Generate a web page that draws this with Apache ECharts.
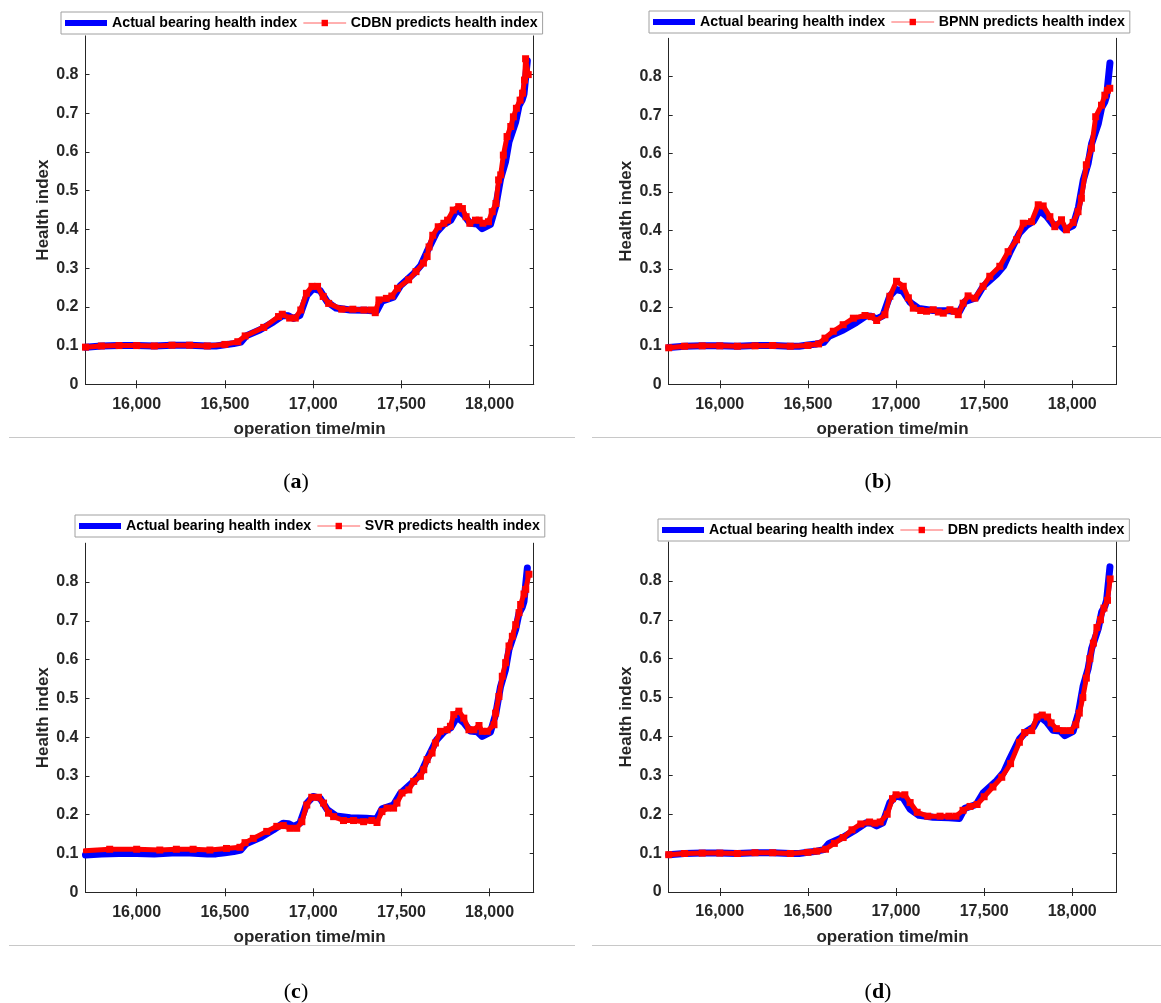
<!DOCTYPE html>
<html>
<head>
<meta charset="utf-8">
<script src="https://cdn.jsdelivr.net/npm/echarts@6/dist/echarts.min.js"></script>
<style>
html,body{margin:0;padding:0;background:#fff;}
#chart{width:1161px;height:1003px;}
</style>
</head>
<body>
<div id="chart"></div>
<script>
// ---------------- data ----------------
const xTicks = [16000, 16500, 17000, 17500, 18000];
const yTicks = [0, 0.1, 0.2, 0.3, 0.4, 0.5, 0.6, 0.7, 0.8];

const actualTime = [15710,15800,15900,16000,16100,16200,16300,16400,16450,16500,16550,16590,16620,16700,16775,16830,16860,16890,16925,16965,17000,17040,17080,17130,17210,17300,17360,17390,17455,17495,17570,17610,17645,17700,17740,17780,17815,17855,17890,17930,17958,18005,18035,18062,18090,18110,18148,18167,18175,18185,18195,18214];
const actualHI   = [0.096,0.099,0.100,0.100,0.099,0.101,0.101,0.099,0.099,0.102,0.105,0.109,0.125,0.141,0.161,0.178,0.177,0.170,0.178,0.230,0.247,0.242,0.213,0.197,0.192,0.191,0.189,0.215,0.225,0.255,0.286,0.307,0.342,0.393,0.413,0.424,0.452,0.437,0.416,0.414,0.402,0.413,0.460,0.530,0.574,0.626,0.678,0.720,0.722,0.735,0.750,0.836];

const cdbnTime = [15710,15800,15900,16000,16100,16200,16300,16400,16500,16573,16615,16720,16804,16825,16867,16899,16930,16962,16994,17025,17057,17088,17162,17225,17288,17331,17352,17373,17415,17446,17478,17541,17583,17625,17646,17657,17678,17709,17741,17762,17794,17825,17846,17867,17888,17920,17941,17962,17994,18015,18036,18051,18063,18078,18099,18120,18135,18152,18173,18187,18198,18204,18219];
const cdbnHI   = [0.096,0.099,0.100,0.100,0.099,0.101,0.101,0.099,0.103,0.110,0.125,0.147,0.175,0.181,0.171,0.171,0.192,0.235,0.253,0.253,0.227,0.209,0.194,0.194,0.192,0.192,0.185,0.218,0.222,0.228,0.248,0.270,0.291,0.313,0.330,0.355,0.385,0.407,0.416,0.424,0.450,0.459,0.454,0.433,0.416,0.424,0.424,0.416,0.420,0.446,0.467,0.528,0.541,0.592,0.640,0.666,0.691,0.713,0.734,0.752,0.786,0.841,0.800];

const bpnnTime = [15710,15800,15900,16000,16100,16200,16300,16400,16500,16560,16597,16644,16700,16758,16824,16860,16890,16937,16965,17003,17041,17070,17098,17140,17173,17211,17240,17268,17306,17330,17353,17381,17409,17447,17494,17532,17589,17636,17684,17722,17769,17807,17835,17873,17901,17939,17967,18005,18033,18052,18080,18109,18133,18166,18185,18200,18213];
const bpnnHI   = [0.095,0.099,0.100,0.100,0.099,0.100,0.101,0.099,0.101,0.105,0.120,0.138,0.155,0.172,0.179,0.176,0.166,0.181,0.229,0.268,0.255,0.225,0.198,0.192,0.190,0.194,0.188,0.185,0.194,0.190,0.181,0.211,0.230,0.224,0.255,0.281,0.307,0.345,0.376,0.419,0.423,0.467,0.464,0.436,0.410,0.428,0.402,0.421,0.449,0.484,0.571,0.614,0.696,0.726,0.752,0.765,0.770];

const svrTime = [15706,15847,16000,16131,16225,16320,16415,16509,16585,16614,16661,16737,16794,16831,16869,16907,16936,16964,16992,17030,17059,17087,17116,17172,17229,17286,17333,17362,17390,17419,17456,17475,17504,17542,17570,17608,17627,17646,17674,17693,17722,17759,17778,17797,17826,17854,17883,17911,17940,17958,17987,18025,18034,18053,18072,18091,18110,18129,18148,18167,18176,18195,18205,18223];
const svrHI   = [0.107,0.111,0.111,0.109,0.111,0.111,0.109,0.113,0.116,0.128,0.139,0.157,0.170,0.172,0.165,0.165,0.182,0.225,0.245,0.245,0.230,0.204,0.195,0.185,0.185,0.182,0.185,0.180,0.208,0.217,0.217,0.230,0.256,0.264,0.286,0.299,0.316,0.342,0.359,0.385,0.415,0.419,0.428,0.458,0.467,0.449,0.419,0.419,0.430,0.415,0.415,0.432,0.462,0.505,0.557,0.592,0.635,0.660,0.690,0.721,0.742,0.769,0.781,0.820];

const dbnTime = [15710,15800,15900,16000,16100,16200,16300,16400,16500,16550,16600,16650,16700,16750,16800,16850,16880,16910,16950,16980,17000,17050,17080,17120,17180,17250,17300,17340,17380,17420,17460,17500,17550,17600,17650,17700,17730,17770,17800,17830,17860,17880,17910,17950,17990,18020,18040,18060,18080,18100,18120,18140,18160,18180,18200,18215];
const dbnHI   = [0.096,0.099,0.100,0.100,0.099,0.101,0.101,0.099,0.102,0.105,0.110,0.125,0.140,0.160,0.175,0.180,0.177,0.180,0.200,0.240,0.250,0.250,0.230,0.205,0.195,0.195,0.195,0.195,0.210,0.220,0.225,0.245,0.270,0.295,0.330,0.385,0.410,0.415,0.450,0.455,0.450,0.435,0.420,0.415,0.415,0.430,0.460,0.500,0.550,0.600,0.640,0.680,0.700,0.730,0.750,0.805];

const actualName = 'Actual bearing health index';
const predNames = ['CDBN predicts health index','BPNN predicts health index','SVR predicts health index','DBN predicts health index'];
const captions = ['a','b','c','d'];

// ---------------- layout ----------------
const zip = (xs, ys) => xs.map((x, i) => [x, ys[i]]);
const predData = [zip(cdbnTime, cdbnHI), zip(bpnnTime, bpnnHI), zip(svrTime, svrHI), zip(dbnTime, dbnHI)];
const actualData = zip(actualTime, actualHI);

const layout = [
  {grid:{left:85.5, top:35.9, width:448.2, height:348.4}, legend:{left:61, top:12}, cap:{x:291, y:466}, sep:{x1:9, x2:575, y:437.5}},
  {grid:{left:668.7, top:38.3, width:447.6, height:346.0}, legend:{left:649, top:11}, cap:{x:873, y:466}, sep:{x1:592, x2:1161, y:437.5}},
  {grid:{left:85.5, top:543.2, width:448.2, height:349.1}, legend:{left:75, top:515}, cap:{x:291, y:976}, sep:{x1:9, x2:575, y:945.5}},
  {grid:{left:668.7, top:542.0, width:447.6, height:350.0}, legend:{left:658, top:519}, cap:{x:873, y:976}, sep:{x1:592, x2:1161, y:945.5}}
];

const AX = '#262626';
const FONT = '"Liberation Sans", Arial, sans-serif';
const SERIF = '"Liberation Serif", "DejaVu Serif", serif';

const grid = [], xAxis = [], yAxis = [], series = [], legend = [], title = [], graphic = [];

layout.forEach((L, i) => {
  grid.push(Object.assign({containLabel:false}, L.grid));
  const axLine = {show:true, lineStyle:{color:AX, width:1}};
  const tick = (vals) => ({show:true, inside:true, length:4, lineStyle:{color:AX, width:1}, customValues: vals});
  xAxis.push({
    type:'value', gridIndex:i, position:'bottom', min:15710, max:18250,
    axisLine:axLine, axisTick:tick(xTicks), splitLine:{show:false},
    axisLabel:{show:true, margin:12, color:AX, fontFamily:FONT, fontWeight:'bold', fontSize:16,
      customValues:xTicks, formatter:(v)=>String(v).replace(/\B(?=(\d{3})+(?!\d))/g, ',')},
    name:'operation time/min', nameLocation:'middle', nameGap:37,
    nameTextStyle:{color:AX, fontFamily:FONT, fontWeight:'bold', fontSize:17}
  });
  xAxis.push({
    type:'value', gridIndex:i, position:'top', min:15710, max:18250,
    axisLine:axLine, axisTick:tick(xTicks), splitLine:{show:false}, axisLabel:{show:false}
  });
  yAxis.push({
    type:'value', gridIndex:i, position:'left', min:0, max:0.9,
    axisLine:axLine, axisTick:tick(yTicks), splitLine:{show:false},
    axisLabel:{show:true, margin:7, color:AX, fontFamily:FONT, fontWeight:'bold', fontSize:16,
      customValues:yTicks, formatter:(v)=>String(Math.round(v*10)/10)},
    name:'Health index', nameLocation:'middle', nameGap:34,
    nameTextStyle:{color:AX, fontFamily:FONT, fontWeight:'bold', fontSize:17}
  });
  yAxis.push({
    type:'value', gridIndex:i, position:'right', min:0, max:0.9,
    axisLine:axLine, axisTick:tick(yTicks), splitLine:{show:false}, axisLabel:{show:false}
  });
  series.push({
    type:'line', name:actualName, xAxisIndex:2*i, yAxisIndex:2*i, data:actualData,
    symbol:'none', lineStyle:{color:'#0000ff', width:7, cap:'round', join:'round'}, itemStyle:{color:'#0000ff'},
    z:2
  });
  series.push({
    type:'line', name:predNames[i], xAxisIndex:2*i, yAxisIndex:2*i, data:predData[i],
    symbol:'rect', symbolSize:7, showAllSymbol:true,
    lineStyle:{color:'#ff0000', width:5, cap:'round', join:'round'}, itemStyle:{color:'#ff0000'},
    z:3
  });
  legend.push({
    left:L.legend.left, top:L.legend.top, orient:'horizontal',
    padding:[4,5,4,4], itemGap:6, itemWidth:42, itemHeight:8,
    backgroundColor:'#ffffff', borderColor:'#a0a0a0', borderWidth:1,
    selectedMode:false, z:10,
    textStyle:{color:'#000', fontFamily:FONT, fontWeight:'bold', fontSize:14.2},
    data:[
      {name:actualName, icon:'path://M0,0H42V6H0Z', itemStyle:{color:'#0000ff'}},
      {name:predNames[i], lineStyle:{width:1, color:'#ff6060'}, itemStyle:{color:'#ff0000'}}
    ]
  });
  title.push({
    left:L.cap.x, top:L.cap.y, textAlign:'center',
    text:'{p|(}{b|' + captions[i] + '}{p|)}',
    textStyle:{fontWeight:'normal', rich:{
      p:{fontFamily:SERIF, fontSize:22, fontWeight:'normal', color:'#000'},
      b:{fontFamily:SERIF, fontSize:22, fontWeight:'bold', color:'#000'}
    }}
  });
  graphic.push({
    type:'line', shape:{x1:L.sep.x1, y1:L.sep.y, x2:L.sep.x2, y2:L.sep.y},
    style:{stroke:'#c8c8c8', lineWidth:1}, silent:true
  });
});

const chart = echarts.init(document.getElementById('chart'), null, {renderer:'canvas'});
chart.setOption({
  animation:false,
  backgroundColor:'#ffffff',
  grid, xAxis, yAxis, series, legend, title, graphic
});
</script>
</body>
</html>
